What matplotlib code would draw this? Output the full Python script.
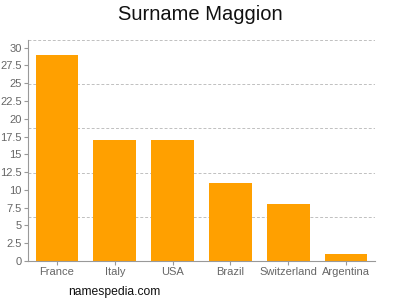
import matplotlib
matplotlib.use("Agg")
import matplotlib.pyplot as plt
import numpy as np

plt.rcParams["font.family"] = ["Liberation Sans", "DejaVu Sans"]

countries = ["France", "Italy", "USA", "Brazil", "Switzerland", "Argentina"]
values = [29, 17, 17, 11, 8, 1]
yticks = [0, 2.5, 5, 7.5, 10, 12.5, 15, 17.5, 20, 22.5, 25, 27.5, 30]
ytick_labels = ["0", "2.5", "5", "7.5", "10", "12.5", "15", "17.5", "20", "22.5", "25", "27.5", "30"]

fig = plt.figure(figsize=(4, 3), dpi=100)
ax = fig.add_axes([0.07, 0.13, 0.8675, 0.737])
ymax = 31.1
x = np.arange(len(countries))
for g in np.linspace(0, ymax, 6)[1:]:
    ax.axhline(g, color="#c0c0c0", linestyle=(0, (3, 2)), linewidth=0.7, zorder=0)
ax.bar(x, values, width=0.74, color="#ffa000", zorder=2)
ax.set_xlim(-0.5, len(countries) - 0.5)
ax.set_ylim(0, ymax)
ax.set_yticks(yticks)
ax.set_yticklabels(ytick_labels)
ax.set_xticks(x)
ax.set_xticklabels(countries)
for s in ["top", "right"]:
    ax.spines[s].set_visible(False)
for s in ["left", "bottom"]:
    ax.spines[s].set_color("#999999")
    ax.spines[s].set_linewidth(0.8)
ax.tick_params(axis="both", colors="#999999", labelcolor="#666666", labelsize=8, length=3, width=0.8, pad=1.5)
fig.text(0.5, 0.95, "Surname Maggion", ha="center", va="center", fontsize=14.5, color="#111111")
fig.text(0.17, 0.027, "namespedia.com", ha="left", va="center", fontsize=8.7, color="#111111")
fig.savefig("out.png", dpi=100)
